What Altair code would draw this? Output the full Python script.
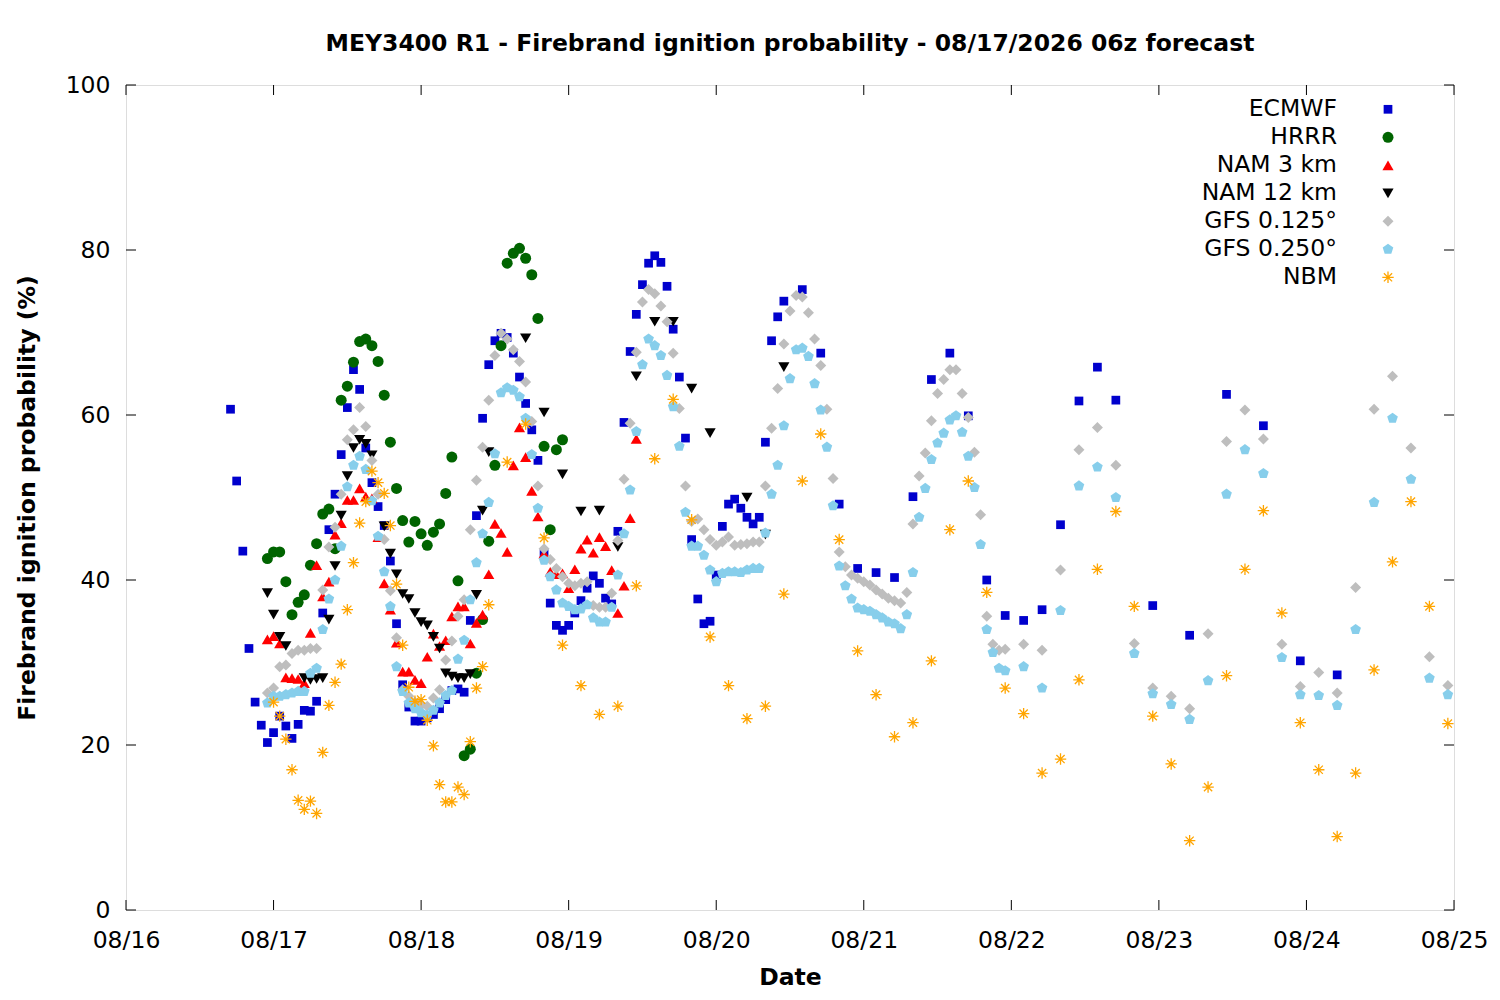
import json
import altair as alt
import pandas as pd

FONT = "DejaVu Sans"
FS = 23.5

TITLE = "MEY3400 R1 - Firebrand ignition probability - 08/17/2026 06z forecast"
X_TITLE = "Date"
Y_TITLE = "Firebrand ignition probability (%)"
day_labels = ["08/16", "08/17", "08/18", "08/19", "08/20", "08/21", "08/22", "08/23", "08/24", "08/25"]
day_hours = [0, 24, 48, 72, 96, 120, 144, 168, 192, 216]
y_ticks = [0, 20, 40, 60, 80, 100]

series_names = ["ECMWF", "HRRR", "NAM 3 km", "NAM 12 km", "GFS 0.125°", "GFS 0.250°", "NBM"]
series_colors = ["#0000CD", "#006400", "#FF0000", "#000000", "#BEBEBE", "#87CEEB", "#FFA500"]
PENTAGON = "M0,-1L0.951,-0.309L0.588,0.809L-0.588,0.809L-0.951,-0.309Z"
ASTERISK = "M-1,0L1,0M0,-1L0,1M-0.72,-0.72L0.72,0.72M-0.72,0.72L0.72,-0.72"
series_shapes = ["square", "circle", "triangle-up", "triangle-down", "diamond", PENTAGON, ASTERISK]
series_sizes = [76, 121, 125, 125, 121, 125, 130]

# hours after 08/16 00:00 (local), values in %
ecmwf_hours = list(range(17, 108)) + list(range(110, 162, 3)) + list(range(167, 198, 6))
ecmwf_vals = [
    60.7, 52.0, 43.5, 31.7, 25.2, 22.4, 20.3, 21.5, 23.5, 22.3,
    20.8, 22.5, 24.2, 24.1, 25.3, 36.0, 46.1, 50.4, 55.2, 60.9,
    65.5, 63.1, 56.0, 51.8, 48.9, 46.6, 42.3, 34.7, 27.3, 24.6,
    22.9, 22.9, 23.3, 23.7, 24.4, 25.5, 26.6, 26.8, 26.4, 35.1,
    47.8, 59.6, 66.1, 69.0, 69.9, 69.4, 67.5, 64.6, 61.4, 58.2,
    54.5, 43.2, 37.2, 34.5, 33.9, 34.5, 36.0, 37.5, 39.0, 40.5,
    39.6, 37.8, 37.1, 45.9, 59.1, 67.7, 72.2, 75.8, 78.4, 79.3,
    78.5, 75.6, 70.4, 64.6, 57.2, 44.9, 37.7, 34.7, 35.0, 40.6,
    46.5, 49.2, 49.8, 48.7, 47.6, 46.8, 47.6, 56.7, 69.0, 71.9,
    73.8,
    75.2, 67.5, 49.2, 41.4, 40.9, 40.3, 50.1, 64.3, 67.5, 59.9,
    40.0, 35.7, 35.1, 36.4, 46.7, 61.7, 65.8, 61.8,
    36.9, 33.3, 62.5, 58.7, 30.2, 28.5,
]

hrrr_hours = list(range(23, 72))
hrrr_vals = [
    42.6, 43.4, 43.4, 39.8, 35.8, 37.3, 38.2, 41.8, 44.4, 48.0,
    48.6, 43.8, 61.8, 63.5, 66.4, 68.9, 69.2, 68.4, 66.5, 62.4,
    56.7, 51.1, 47.2, 44.6, 47.1, 45.6, 44.2, 45.8, 46.8, 50.5,
    54.9, 39.9, 18.7, 19.5, 28.7, 35.2, 44.7, 53.9, 68.4, 78.4,
    79.6, 80.2, 79.0, 77.0, 71.7, 56.2, 46.1, 55.8, 57.0,
]

nam3_hours = list(range(23, 84))
nam3_vals = [
    32.8, 33.2, 32.3, 28.2, 28.1, 28.0, 27.5, 33.6, 41.8, 38.0,
    39.8, 45.5, 46.9, 49.7, 49.7, 51.1, 50.1, 49.9, 45.2, 39.6,
    36.4, 32.4, 28.9, 28.9, 27.9, 27.5, 30.7, 33.5, 32.0, 32.7,
    35.6, 36.8, 36.8, 32.3, 34.8, 35.8, 40.7, 46.8, 45.7, 43.4,
    53.9, 58.5, 54.9, 50.8, 47.7, 43.2, 41.0, 40.7, 40.8, 39.0,
    41.3, 43.8, 44.9, 43.3, 45.2, 44.1, 41.2, 36.0, 39.3, 47.5,
    57.1,
]

nam12_hours = [23, 24, 25, 26, 29, 30, 31, 32, 33, 34, 35, 36, 37, 38, 39, 40,
               42, 43, 44, 45, 46, 47, 48, 49, 50, 51, 52, 53, 54, 55, 56, 57, 58, 59,
               65, 68, 71, 74, 77, 80, 83, 86, 89, 92, 95, 101, 104, 107]
nam12_vals = [38.4, 35.8, 33.1, 32.0, 28.1, 27.9, 28.0, 28.1, 35.2, 41.7, 47.8, 52.6, 56.0, 57.0, 56.5, 55.1,
              46.5, 43.2, 40.7, 38.3, 37.7, 36.0, 34.9, 34.5, 33.1, 31.7, 28.7, 28.3, 28.1, 28.1, 28.6, 38.2, 48.4, 55.5,
              69.3, 60.3, 52.8, 48.3, 48.4, 44.0, 64.7, 71.3, 71.3, 63.2, 57.8, 50.0, 45.5, 65.8]

gfs_hours = list(range(23, 144)) + list(range(146, 216, 3))
gfs125_vals = [
    26.3, 26.9, 29.5, 29.7, 31.1, 31.5, 31.5, 31.7, 31.7, 38.8,
    44.0, 46.4, 50.4, 57.0, 58.2, 60.9, 58.6, 54.5, 50.4, 44.9,
    38.7, 33.0, 26.7, 25.9, 25.2, 24.8, 24.7, 25.7, 26.7, 30.3,
    32.6, 35.6, 37.6, 46.1, 52.1, 56.1, 61.8, 67.2, 69.9, 69.2,
    67.9, 66.5, 64.0, 59.2, 51.4, 43.8, 42.5, 41.4, 40.4, 39.6,
    39.3, 39.6, 39.8, 36.9, 36.7, 36.7, 38.4, 44.8, 52.2, 59.0,
    67.6, 73.7, 75.2, 74.7, 73.2, 71.3, 67.5, 60.8, 51.4, 47.1,
    47.4, 46.1, 44.9, 44.2, 44.6, 45.2, 44.2, 44.3, 44.4, 44.6,
    44.6, 51.4, 58.4, 63.2, 68.6, 72.6, 74.5, 74.3, 72.4, 69.2,
    66.0, 60.7, 52.3, 43.4, 41.6, 40.6, 40.2, 39.8, 39.4, 38.8,
    38.3, 37.8, 37.5, 37.2, 38.5, 46.8, 52.6, 55.4, 59.3, 62.6,
    64.3, 65.5, 65.5, 62.6, 59.7, 55.5, 47.9, 35.6, 32.2, 31.5,
    31.6,
    32.2, 31.5, 41.2, 55.8, 58.5, 53.9, 32.3, 26.9, 25.9, 24.4,
    33.5, 56.8, 60.6, 57.1, 32.2, 27.1, 28.8, 26.3, 39.1, 60.7,
    64.7, 56.0, 30.7, 27.2,
]
gfs250_vals = [
    25.1, 25.9, 25.9, 26.1, 26.3, 26.5, 26.5, 28.7, 29.3, 34.0,
    37.7, 40.0, 44.1, 51.3, 53.9, 55.0, 53.4, 49.6, 45.3, 41.0,
    36.8, 29.5, 26.5, 25.1, 24.4, 23.9, 23.6, 24.2, 25.1, 26.0,
    26.6, 30.4, 32.7, 37.6, 42.1, 45.6, 49.4, 55.3, 62.7, 63.3,
    63.0, 62.2, 59.6, 55.2, 48.7, 42.4, 40.4, 38.8, 37.2, 36.8,
    36.4, 36.5, 37.0, 35.4, 34.9, 34.9, 36.7, 40.6, 45.6, 50.9,
    58.0, 66.1, 69.2, 68.4, 67.2, 64.8, 61.0, 56.2, 48.2, 44.1,
    44.1, 43.0, 41.2, 39.8, 40.8, 41.0, 41.0, 40.9, 41.2, 41.4,
    41.4, 45.7, 50.4, 53.9, 58.7, 64.4, 67.9, 68.1, 67.1, 63.8,
    60.6, 56.1, 49.0, 41.7, 39.3, 37.7, 36.6, 36.4, 36.2, 35.8,
    35.4, 34.9, 34.7, 34.1, 35.8, 40.9, 47.6, 51.1, 54.6, 56.6,
    57.8, 59.4, 59.9, 57.9, 55.0, 51.2, 44.3, 34.0, 31.2, 29.3,
    29.0,
    29.5, 26.9, 36.3, 51.4, 53.7, 50.0, 31.1, 26.2, 24.9, 23.1,
    27.8, 50.4, 55.8, 52.9, 30.6, 26.1, 26.0, 24.8, 34.0, 49.4,
    59.6, 52.2, 28.1, 26.1,
]

nbm_hours = list(range(24, 60)) + list(range(62, 216, 3))
nbm_vals = [
    25.2, 23.5, 20.7, 17.0, 13.3, 12.2, 13.2, 11.7, 19.1, 24.8,
    27.6, 29.8, 36.4, 42.1, 46.9, 49.5, 53.2, 51.8, 50.5, 46.6,
    39.5, 32.1, 27.0, 25.3, 25.5, 23.0, 19.9, 15.2, 13.1, 13.1,
    14.9, 14.0, 20.4, 26.9, 29.5, 37.0,
    54.3, 58.9, 45.1, 32.1, 27.2, 23.7, 24.7, 39.3, 54.7, 61.9,
    47.3, 33.1, 27.2, 23.2, 24.7, 38.3, 52.0, 57.7, 44.9, 31.4,
    26.1, 21.0, 22.7, 30.2, 46.1, 52.0, 38.5, 26.9, 23.8, 16.6,
    18.3, 27.9, 41.3, 48.3, 36.8, 23.5, 17.7, 8.4, 14.9, 28.4,
    41.3, 48.4, 36.0, 22.7, 17.0, 8.9, 16.6, 29.1, 42.2, 49.5,
    36.8, 22.6,
]

series_data = [
    (ecmwf_hours, ecmwf_vals),
    (hrrr_hours, hrrr_vals),
    (nam3_hours, nam3_vals),
    (nam12_hours, nam12_vals),
    (gfs_hours, gfs125_vals),
    (gfs_hours, gfs250_vals),
    (nbm_hours, nbm_vals),
]

W, H = 1328, 825
TICK = 10
xs = alt.Scale(domain=[0, 216], nice=False, zero=False)
ys = alt.Scale(domain=[0, 100], nice=False)
leg_scale = alt.Scale(domain=[0, 6], range=[24.3, 192.3])

label_expr = json.dumps(day_labels) + "[round(datum.value / 24)]"

x_axis = alt.Axis(values=day_hours, labelExpr=label_expr, title=X_TITLE,
                  labelFont=FONT, labelFontSize=FS, labelColor="black",
                  labelBaseline="alphabetic", labelPadding=37, labelFlush=False,
                  labelOverlap=False, ticks=False, domain=False, grid=False,
                  titleFont=FONT, titleFontSize=FS, titleFontWeight="bold", titleColor="black",
                  titleX=W / 2, titleY=74.5, titleBaseline="alphabetic", titleAlign="center")
y_axis = alt.Axis(values=y_ticks, title=Y_TITLE,
                  labelFont=FONT, labelFontSize=FS, labelColor="black",
                  labelPadding=16, labelFlush=False, labelOverlap=False,
                  ticks=False, domain=False, grid=False,
                  titleFont=FONT, titleFontSize=FS, titleFontWeight="bold", titleColor="black",
                  titleX=-91.5, titleY=H / 2, titleAngle=270, titleBaseline="alphabetic",
                  titleAlign="center")


def point_props(i):
    mk = dict(shape=series_shapes[i], size=series_sizes[i], opacity=1)
    if series_names[i] != "NBM":
        mk.update(filled=True, fill=series_colors[i], strokeWidth=0)
    else:
        mk.update(filled=False, stroke=series_colors[i], strokeWidth=1.3)
    return mk


layers = []
for i, (name, (hrs, vals)) in enumerate(zip(series_names, series_data)):
    df = pd.DataFrame({"h": hrs, "v": vals, "series": name})
    layers.append(
        alt.Chart(df).mark_point(**point_props(i)).encode(
            x=alt.X("h:Q", scale=xs, axis=x_axis),
            y=alt.Y("v:Q", scale=ys, axis=y_axis if i == 0 else None),
        )
    )

# inward tick marks on all four sides
yt = pd.DataFrame({"v": y_ticks})
xt = pd.DataFrame({"h": day_hours})
for x0, x1 in [(0, TICK), (W - TICK, W)]:
    layers.append(alt.Chart(yt).mark_rule(color="black", strokeWidth=1).encode(
        y=alt.Y("v:Q", scale=ys, axis=None), x=alt.value(x0), x2=alt.value(x1)))
for y0, y1 in [(H - TICK, H), (0, TICK)]:
    layers.append(alt.Chart(xt).mark_rule(color="black", strokeWidth=1).encode(
        x=alt.X("h:Q", scale=xs, axis=x_axis), y=alt.value(y0), y2=alt.value(y1)))

# key (labels left, symbols right, as in the original)
leg = pd.DataFrame({"name": series_names, "rank": list(range(len(series_names)))})
layers.append(alt.Chart(leg).mark_text(align="right", baseline="middle", font=FONT,
                                       fontSize=FS, color="black").encode(
    text="name:N", x=alt.value(1211),
    y=alt.Y("rank:Q", scale=leg_scale, axis=None)))
for i, name in enumerate(series_names):
    row = leg[leg["name"] == name]
    layers.append(alt.Chart(row).mark_point(**point_props(i)).encode(
        x=alt.value(1262), y=alt.Y("rank:Q", scale=leg_scale, axis=None)))

chart = alt.layer(*layers).resolve_scale(y="independent").properties(
    width=W, height=H,
    title=alt.TitleParams(TITLE, font=FONT, fontSize=FS, fontWeight="bold", color="black",
                          anchor="middle", frame="group", baseline="alphabetic", offset=-1),
    autosize=alt.AutoSizeParams(type="none"),
    padding={"left": 118, "top": 77, "right": 38, "bottom": 80},
).configure_view(stroke="black", strokeWidth=1).configure(background="white")

chart.save("out.html", embed_options={"renderer": "svg", "actions": False})
